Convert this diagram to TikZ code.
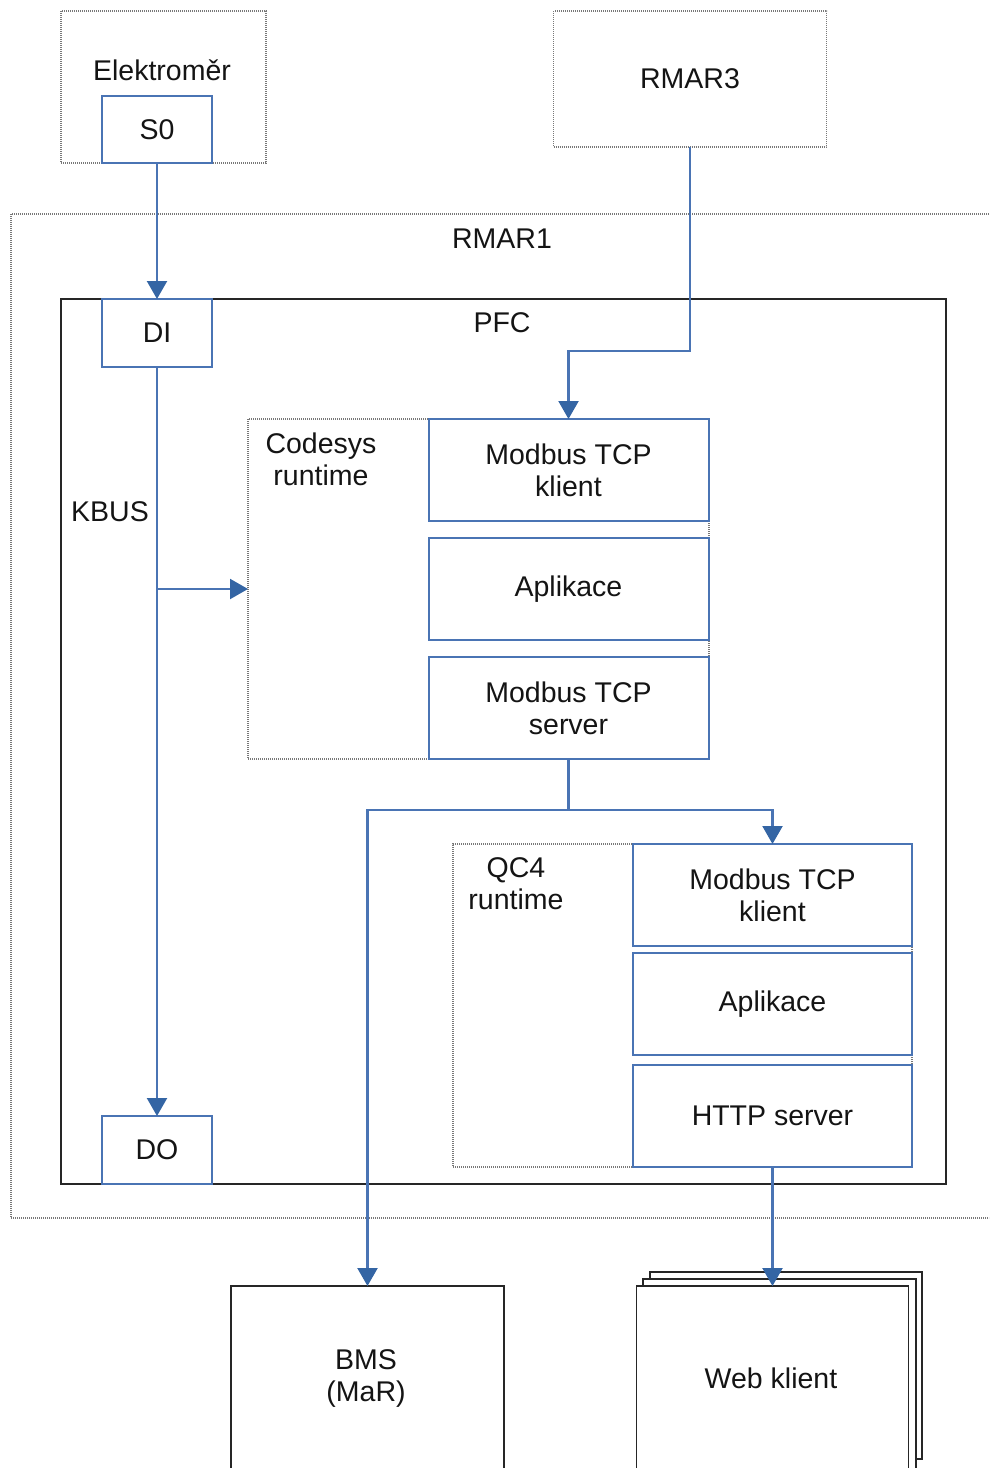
\documentclass[tikz,border=0pt]{standalone}
\usepackage{fontspec}
\setmainfont{Liberation Sans}
\usetikzlibrary{arrows.meta}
\definecolor{lnblue}{RGB}{74,116,180}
\definecolor{tipblue}{RGB}{52,101,164}
\definecolor{dotgray}{RGB}{120,120,120}
\definecolor{txt}{RGB}{20,20,20}
\begin{document}
\begin{tikzpicture}[x=1pt,y=-1pt,
  every node/.style={font=\fontsize{28.5}{32}\selectfont, text=txt, align=center, inner sep=0pt, outer sep=0pt},
  dotbox/.style={draw=dotgray, line width=1.4pt, dash pattern=on 1pt off 1pt, rectangle},
  bluebox/.style={draw=lnblue, line width=2pt, rectangle, fill=white},
  blackbox/.style={draw=black!85, line width=1.6pt, rectangle, fill=white},
  conn/.style={draw=lnblue, line width=2.2pt},
  arr/.style={conn, -{Triangle[length=18pt,width=20pt,color=tipblue]}},
  sz/.style n args={2}{minimum width=#1, minimum height=#2}
]
\useasboundingbox (0,0) rectangle (989,1468);
\clip (0,0) rectangle (989,1468);

% outer containers
\path[dotbox] (11,214) rectangle (1010,1218);
\node (rmar1lbl) at (502,239) {RMAR1};
\path[draw=black!85, line width=1.6pt] (61,299) rectangle (946,1184);
\node (pfclbl) at (502,323) {PFC};

% top devices
\node[dotbox, sz={205pt}{152pt}] (elek) at (163.5,87) {};
\node (eleklbl) at (162,70) {Elektroměr};
\node[bluebox, sz={110pt}{67pt}] (s0) at (157,129.5) {S0};
\node[dotbox, sz={273pt}{136pt}] (rmar3) at (690,79) {RMAR3};

% runtimes
\node[dotbox, sz={461pt}{340pt}] (codesys) at (478.5,589) {};
\node (codesyslbl) at (321,459) {Codesys\\runtime};
\node[dotbox, sz={459pt}{323pt}] (qc4) at (682.5,1005.5) {};
\node (qc4lbl) at (516,884) {QC4\\runtime};

% KBUS I/O
\node[bluebox, sz={110pt}{68pt}] (di) at (157,333) {DI};
\node[bluebox, sz={110pt}{68pt}] (do) at (157,1150) {DO};
\node (kbus) at (110,512) {KBUS};

% Codesys blocks
\node[bluebox, sz={280pt}{102pt}] (mk1) at (568.5,470) {Modbus TCP\\klient};
\node[bluebox, sz={280pt}{102pt}] (app1) at (568.5,589) {Aplikace};
\node[bluebox, sz={280pt}{102pt}] (ms) at (568.5,708) {Modbus TCP\\server};

% QC4 blocks
\node[bluebox, sz={279pt}{102pt}] (mk2) at (772.5,895) {Modbus TCP\\klient};
\node[bluebox, sz={279pt}{102pt}] (app2) at (772.5,1004) {Aplikace};
\node[bluebox, sz={279pt}{102pt}] (http) at (772.5,1116) {HTTP server};

% bottom devices
\node[blackbox, sz={273pt}{200pt}] (bms) at (367.5,1386) {};
\node (bmslbl) at (366,1378) {BMS\\(MaR)};
\node[blackbox, sz={272pt}{187pt}] (webback) at (786,1365.5) {};
\node[blackbox, sz={273pt}{200pt}] (webmid) at (779.5,1379) {};
\node[blackbox, sz={272pt}{200pt}] (web) at (772.5,1386) {};
\node (weblbl) at (771,1378) {Web klient};

% connectors
\coordinate (kb) at (157,589);
\coordinate (r3turn) at (568.5,351);
\coordinate (split) at (568.5,810);
\draw[arr] (rmar3.south) |- (r3turn) -- (mk1.north);
\draw[arr] (s0.south) -- (di.north);
\draw[arr] (di.south) -- (do.north);
\draw[arr] (kb) -- (codesys.west);
\draw[conn] (ms.south) -- (split);
\draw[arr] (split) -| (bms.north);
\draw[arr] (split) -| (mk2.north);
\draw[arr] (http.south) -- (web.north);
\end{tikzpicture}
\end{document}
